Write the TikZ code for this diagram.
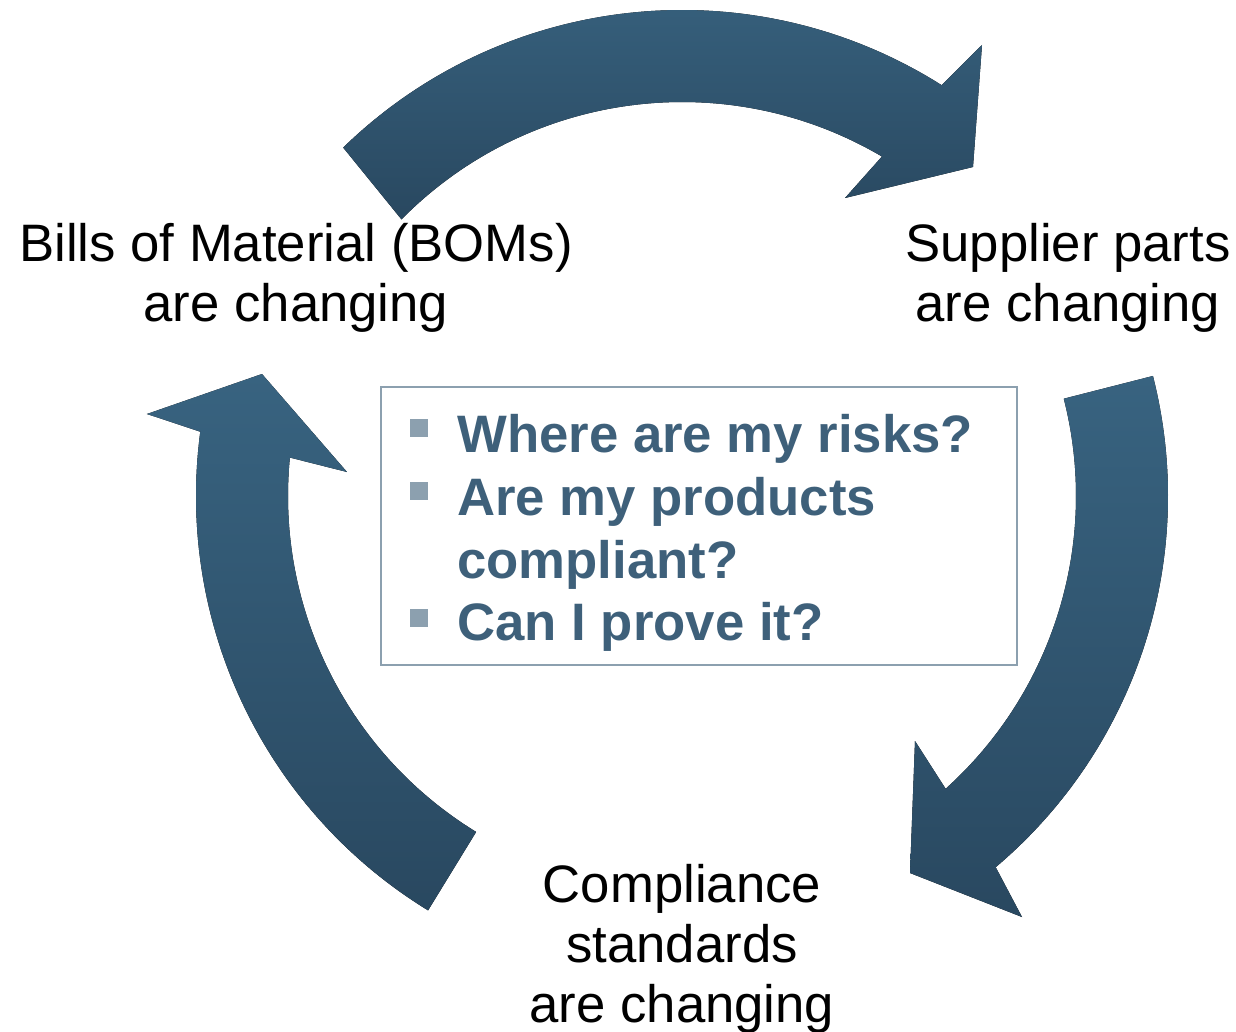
\documentclass[tikz,border=0pt]{standalone}
\usepackage{fontspec}
\setmainfont{Liberation Sans}
\definecolor{arrowtop}{RGB}{56,99,128}
\definecolor{arrowbot}{RGB}{41,72,96}
\definecolor{qtext}{RGB}{62,96,122}
\definecolor{qgray}{RGB}{140,160,175}
\tikzset{
  ringarrow/.style={top color=arrowtop, bottom color=arrowbot, draw=none},
  outertext/.style={font=\fontsize{30}{36}\selectfont, inner sep=0pt, anchor=base},
  question/.style={font=\bfseries\fontsize{30}{36}\selectfont, text=qtext, inner sep=0pt, anchor=base west},
  bulletsq/.style={fill=qgray, minimum size=0.36cm, inner sep=0pt}
}

\begin{document}
\begin{tikzpicture}[x=0.02cm, y=0.02cm]
  \useasboundingbox (-682,-535) rectangle (554,496);
  % the three arrows round (0,0)
  \fill [ringarrow] (134.2:486) arc [start angle=134.2, end angle=57.7, radius=486]
    -- (300,451) -- (291,329) -- (163,298) -- (59.5:394)
    arc [start angle=59.5, end angle=135.4, radius=394] -- cycle;
  \fill [ringarrow] (14.3:486) arc [start angle=14.3, end angle=-49.8, radius=486]
    -- (340,-421) -- (228,-377) -- (233,-245) -- (-48:394)
    arc [start angle=-48, end angle=14.3, radius=394] -- cycle;
  \fill [ringarrow] (238.5:486) arc [start angle=238.5, end angle=172.4, radius=486]
    -- (-535,82) -- (-420,122) -- (-335,24) -- (174.4:394)
    arc [start angle=174.4, end angle=238.5, radius=394] -- cycle;
  % labels
  \node (bom1) [outertext] at (-386,234) {Bills of Material (BOMs)};
  \node (bom2) [outertext] at (-386,174) {are changing};
  \node (sup1) [outertext] at (386,234) {Supplier parts};
  \node (sup2) [outertext] at (386,174) {are changing};
  \node (comp1) [outertext] at (0,-406) {Compliance};
  \node (comp2) [outertext] at (0,-466) {standards};
  \node (comp3) [outertext] at (0,-526) {are changing};
  % questions
  \draw [qgray, line width=1.1pt] (-301,109) rectangle (335,-169);
  \node (b1) [bulletsq] at (-263,68) {};
  \node (b2) [bulletsq] at (-263,5) {};
  \node (b3) [bulletsq] at (-263,-122) {};
  \node (q1) [question] at (-225,44) {Where are my risks?};
  \node (q2) [question] at (-225,-19) {Are my products};
  \node (q2b) [question] at (-225,-82) {compliant?};
  \node (q3) [question] at (-225,-144) {Can I prove it?};
\end{tikzpicture}
\end{document}
